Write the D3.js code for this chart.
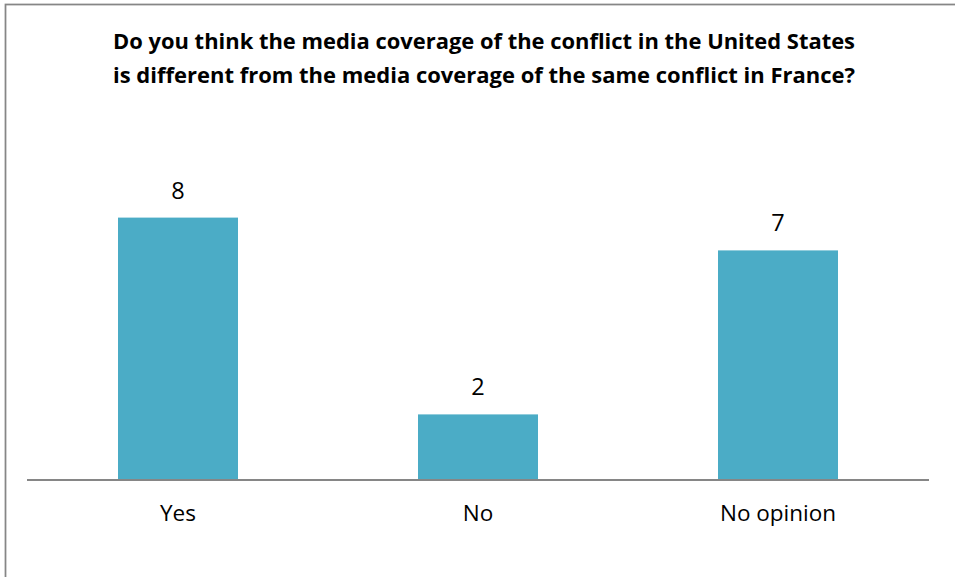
<!DOCTYPE html>
<html><head><meta charset="utf-8">
<script src="https://cdn.jsdelivr.net/npm/d3@7"></script>
<style>html,body{margin:0;padding:0;background:#fff;overflow:hidden}</style>
</head><body>
<svg id="c" width="955" height="577"></svg>
<script>
const titleLines = ["Do you think the media coverage of the conflict in the United States",
                    "is different from the media coverage of the same conflict in France?"];
const categories = ["Yes", "No", "No opinion"];
const values = [8, 2, 7];

const svg = d3.select("#c");
const font = "'Open Sans', sans-serif";

svg.append("rect").attr("x", 5.5).attr("y", 4.5).attr("width", 1200).attr("height", 1200)
  .attr("fill", "#fff").attr("stroke", "#868686").attr("stroke-width", 1.75);

const x = d3.scaleBand().domain(categories).range([28, 928]).paddingInner(0.6).paddingOuter(0.3);
const y = d3.scaleLinear().domain([0, 10]).range([480, 152]);

svg.selectAll("text.title").data(titleLines).join("text").attr("class", "title")
  .attr("x", 484).attr("y", (d, i) => 49 + i * 34)
  .attr("text-anchor", "middle").attr("font-family", font).attr("font-weight", "bold")
  .attr("font-size", 22).attr("fill", "#000")
  .attr("textLength", 742).attr("lengthAdjust", "spacingAndGlyphs")
  .text(d => d);

svg.selectAll("rect.bar").data(values).join("rect").attr("class", "bar")
  .attr("x", (d, i) => x(categories[i])).attr("width", x.bandwidth())
  .attr("y", d => y(d)).attr("height", d => y(0) - y(d))
  .attr("fill", "#4BACC6");

svg.selectAll("text.val").data(values).join("text").attr("class", "val")
  .attr("x", (d, i) => x(categories[i]) + x.bandwidth() / 2)
  .attr("y", d => y(d) - 19)
  .attr("text-anchor", "middle").attr("font-family", font).attr("font-size", 23.5).attr("fill", "#000")
  .text(d => d);

const axis = d3.axisBottom(x).tickSize(0).tickPadding(0);
const g = svg.append("g").attr("transform", `translate(0,${y(0)})`).call(axis);
g.select(".domain").attr("stroke", "#868686").attr("stroke-width", 2).attr("d", "M27,0H929");
g.selectAll(".tick text").attr("font-family", font).attr("font-size", 22.5).attr("fill", "#000")
  .attr("dy", null).attr("y", 41);
</script>
</body></html>
